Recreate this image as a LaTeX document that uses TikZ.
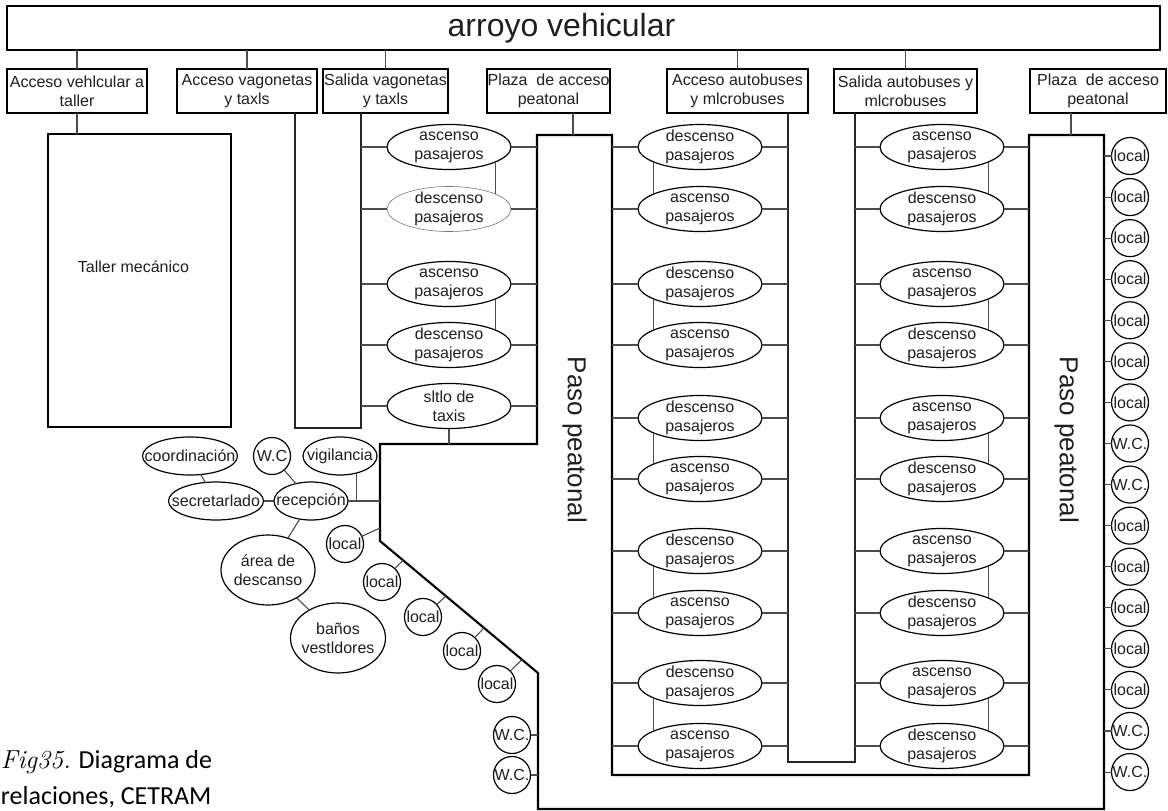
\documentclass[tikz,border=0pt]{standalone}
\usepackage{fontspec}
\newfontfamily\arial{Liberation Sans}
\newfontfamily\calibri{Carlito}
\usetikzlibrary{shapes.geometric}
\begin{document}
\begin{tikzpicture}[x=1pt,y=-1pt,
  every node/.style={inner sep=0pt, outer sep=0pt, text=black!88},
  txt/.style={font=\arial\fontsize{16}{19}\selectfont, align=center, text=black!88},
  wall/.style={draw=black, line width=2.1pt, line join=miter},
  frame/.style={rectangle, draw=black, line width=1.9pt, align=center,
    font=\arial\fontsize{16}{19}\selectfont, minimum height=44pt},
  link/.style={draw=black!70, line width=1.1pt},
  lane/.style={draw=black!85, line width=1.4pt},
  stop/.style={ellipse, draw=black, line width=1.2pt, minimum width=124pt,
    minimum height=45pt, label={[txt]center:#1}},
  room/.style={ellipse, draw=black, line width=1.2pt, label={[txt]center:#1}},
  shop/.style={circle, draw=black, line width=1.2pt, minimum size=37pt,
    label={[txt]center:#1}},
]
\useasboundingbox (0,0) rectangle (1168,811);

% --- street and access gates ---
\node[frame, minimum width=1153pt,
  label={[font=\arial\fontsize{32}{36}\selectfont, xshift=-22pt]center:arroyo vehicular}]
  (road) at (583.5,28) {};

\node[frame, minimum width=140pt] (g1) at (77,91)    {Acceso vehlcular a\\taller};
\node[frame, minimum width=140pt] (g2) at (247,91)   {Acceso vagonetas\\y taxls};
\node[frame, minimum width=125pt] (g3) at (385.5,91) {Salida vagonetas\\y taxls};
\node[frame, minimum width=123pt] (g4) at (548.5,91) {Plaza\ \ de acceso\\peatonal};
\node[frame, minimum width=141pt] (g5) at (737.5,91) {Acceso autobuses\\y mlcrobuses};
\node[frame, minimum width=143pt] (g6) at (905.5,91) {Salida autobuses y\\mlcrobuses};
\node[frame, minimum width=136pt] (g7) at (1098,91)  {Plaza\ \ de acceso\\peatonal};

\foreach \g in {g1,g2,g3,g5,g6}
  \draw[link] (road.south -| \g.north) -- (\g.north);

% --- workshop ---
\node[frame, minimum width=183pt, minimum height=293pt,
  label={[txt, xshift=-6pt, yshift=13.5pt]center:Taller mecánico}]
  (taller) at (139.5,280.5) {};
\draw[link] (g1.south) -- (g1.south |- taller.north);

% --- pedestrian walkway outline ---
\coordinate (w1) at (537,135);
\coordinate (w2) at (612,135);
\coordinate (w3) at (612,775);
\coordinate (w4) at (1029,775);
\coordinate (w5) at (1029,135);
\coordinate (w6) at (1104,135);
\coordinate (w7) at (1104,809);
\coordinate (w8) at (538,809);
\coordinate (w9) at (538,673);
\coordinate (w10) at (380,541);
\coordinate (w11) at (380,444);
\coordinate (w12) at (537,444);
\draw[wall] (w1) -- (w2) -- (w3) -- (w4) -- (w5) -- (w6) -- (w7) -- (w8)
  -- (w9) -- (w10) -- (w11) -- (w12) -- cycle;

\node[font=\arial\fontsize{26}{30}\selectfont, rotate=-90] (pasoL) at (574.5,440) {Paso peatonal};
\node[font=\arial\fontsize{26}{30}\selectfont, rotate=-90] (pasoR) at (1066.5,440) {Paso peatonal};

\coordinate (p4) at (573,135);
\coordinate (p7) at (1071,135);
\draw[link] (g4.south -| p4) -- (p4);
\draw[link] (g7.south -| p7) -- (p7);

% --- van and taxi lane ---
\coordinate (vL) at (295,428);
\coordinate (vR) at (361,428);
\draw[lane] (g2.south -| vL) -- (vL) -- (vR) -- (g3.south -| vR);

\node[stop={ascenso\\pasajeros}] (t1) at (449,147) {};
\node[stop={descenso\\pasajeros}, draw=black!55, line width=0.6pt] (t2) at (449,209) {};
\node[stop={ascenso\\pasajeros}] (t3) at (449,284) {};
\node[stop={descenso\\pasajeros}] (t4) at (449,345) {};
\node[stop={sltlo de\\taxis}] (t5) at (449,406) {};
\foreach \t in {t1,t2,t3,t4,t5}{
  \draw[link] (\t.west -| vR) -- (\t.west);
  \draw[link] (\t.east) -- (\t.east -| w1);
}
\draw[link] (t1.-18) -- (t2.18);
\draw[link] (t3.-18) -- (t4.18);
\draw[link] (t5.south) -- (t5.south |- w12);

% --- bus lane ---
\coordinate (mL) at (788,762);
\coordinate (mR) at (855,762);
\draw[lane] (g5.south -| mL) -- (mL) -- (mR) -- (g6.south -| mR);

\foreach \y/\lefttxt/\righttxt [count=\i] in {147/descenso/ascenso,209/ascenso/descenso,
    284/descenso/ascenso,345/ascenso/descenso,418/descenso/ascenso,479/ascenso/descenso,
    551/descenso/ascenso,613/ascenso/descenso,683/descenso/ascenso,746/ascenso/descenso}{
  \node[stop={\lefttxt\\pasajeros}] (ml\i) at (700,\y) {};
  \node[stop={\righttxt\\pasajeros}] (mr\i) at (942,\y) {};
  \draw[link] (ml\i.west -| w2) -- (ml\i.west);
  \draw[link] (ml\i.east) -- (ml\i.east -| mL);
  \draw[link] (mr\i.west -| mR) -- (mr\i.west);
  \draw[link] (mr\i.east) -- (mr\i.east -| w4);
}
\foreach \i/\j in {1/2,3/4,5/6,7/8,9/10}{
  \draw[link] (ml\i.198) -- (ml\j.162);
  \draw[link] (mr\i.-18) -- (mr\j.18);
}

% --- shops along the east walkway ---
\foreach \lab [count=\i from 0] in {local,local,local,local,local,local,local,W.C.,W.C.,
    local,local,local,local,local,W.C.,W.C.}{
  \node[shop=\lab] (r\i) at (1130,{156+41.07*\i}) {};
  \draw[link] (r\i.west -| w6) -- (r\i.west);
}

% --- administration ---
\node[room=coordinación, minimum width=95pt, minimum height=38pt] (coord) at (190,456) {};
\node[shop=W.C] (wcA) at (272,456) {};
\node[room=vigilancia, minimum width=74pt, minimum height=38pt] (vig) at (340,456) {};
\node[room=secretarlado, minimum width=95pt, minimum height=38pt] (secr) at (216,501) {};
\node[room=recepción, minimum width=74pt, minimum height=38pt] (recep) at (311,501) {};
\node[room={área de\\descanso}, minimum width=94pt, minimum height=70pt] (rest) at (268,570) {};
\node[room={baños\\vestldores}, minimum width=95pt, minimum height=70pt] (bath) at (338,638) {};

\draw[link] (coord) -- (secr);
\draw[link] (secr) -- (recep);
\draw[link] (wcA) -- (recep);
\draw[link] (recep) -- (rest);
\draw[link] (rest) -- (bath);
\draw[link] (recep.east) -- (recep.east -| w11);
\draw[link] (vig.-45) -- (vig.-45 |- recep.east);

% --- shops along the diagonal walkway ---
\foreach \x/\y/\px/\py [count=\i] in {345/544/380/528, 382/582/403/560.2,
    423/617/446/596.1, 462/651/484/627.9, 497/684/522/659.6}{
  \node[shop=local] (d\i) at (\x,\y) {};
  \coordinate (dp\i) at (\px,\py);
  \draw[link] (d\i) -- (dp\i);
}
\node[shop=W.C.] (wb1) at (512,735) {};
\node[shop=W.C.] (wb2) at (512,775) {};
\draw[link] (wb1.east) -- (wb1.east -| w8);
\draw[link] (wb2.east) -- (wb2.east -| w8);

% --- caption ---
\node[anchor=base west, font=\calibri\fontsize{26}{31}\selectfont, text=black] (cap1) at (1,768)
  {{\rmfamily\itshape Fig35.} Diagrama de};
\node[anchor=base west, font=\calibri\fontsize{26}{31}\selectfont, text=black] (cap2) at (1,804)
  {relaciones, CETRAM};
\end{tikzpicture}
\end{document}
